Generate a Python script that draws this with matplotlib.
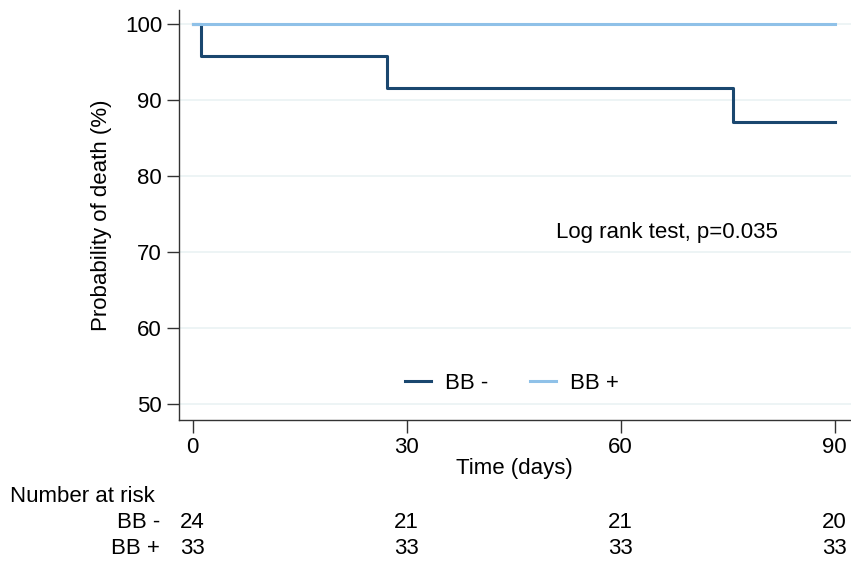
import matplotlib
matplotlib.use("Agg")
import matplotlib.pyplot as plt
import matplotlib.transforms as mtransforms

plt.rcParams['font.family'] = ['Liberation Sans', 'DejaVu Sans']

# Data
bbm_times = [0, 1.1, 27.3, 75.7, 90]
bbm_surv = [100, 95.8, 91.5, 87.1, 87.1]
bbp_times = [0, 90]
bbp_surv = [100, 100]
risk_times = [0, 30, 60, 90]
risk_bbm = [24, 21, 21, 20]
risk_bbp = [33, 33, 33, 33]
group_labels = ["BB -", "BB +"]
yticks = [50, 60, 70, 80, 90, 100]
xticks = [0, 30, 60, 90]

dark = "#1a476f"
light = "#8fc1e8"
grid = "#eaf2f3"
FS = 16

fig = plt.figure(figsize=(8.51, 5.61), dpi=100)
ax = fig.add_axes([0.210, 0.251, 0.790, 0.731])

ax.step(bbm_times, bbm_surv, where='post', color=dark, lw=2.2, label=group_labels[0], zorder=3)
ax.step(bbp_times, bbp_surv, where='post', color=light, lw=2.2, label=group_labels[1], zorder=3)

ax.set_xlim(-1.96, 92.3)
ax.set_ylim(47.9, 101.8)
ax.set_yticks(yticks)
ax.set_xticks(xticks)
ax.yaxis.grid(True, color=grid, lw=1.2)
ax.set_axisbelow(True)
for s in ['top', 'right']:
    ax.spines[s].set_visible(False)
for s in ['left', 'bottom']:
    ax.spines[s].set_color('#333333')
    ax.spines[s].set_linewidth(1.0)
ax.tick_params(axis='both', labelsize=FS, length=9, width=1.0, color='#333333', pad=3)
ax.tick_params(axis='x', pad=3)

ax.set_ylabel("Probability of death (%)", fontsize=FS, labelpad=9)
ax.set_xlabel("Time (days)", fontsize=FS, labelpad=0)

ax.text(51, 72.6, "Log rank test, p=0.035", fontsize=FS, va='center', ha='left')

leg = ax.legend(loc='center', bbox_to_anchor=(0.4955, 0.09), ncol=2, frameon=False,
                fontsize=FS, handlelength=1.17, columnspacing=1.9, handletextpad=0.63)

trans = mtransforms.blended_transform_factory(ax.transData, fig.transFigure)
fig.text(10/851, 1 - 496/561, "Number at risk", fontsize=FS, ha='left', va='center')
fig.text(160/851, 1 - 522/561, group_labels[0], fontsize=FS, ha='right', va='center')
fig.text(160/851, 1 - 548/561, group_labels[1], fontsize=FS, ha='right', va='center')
for t, a, b in zip(risk_times, risk_bbm, risk_bbp):
    ax.text(t, 1 - 522/561, str(a), transform=trans, fontsize=FS, ha='center', va='center')
    ax.text(t, 1 - 548/561, str(b), transform=trans, fontsize=FS, ha='center', va='center')

fig.savefig("out.png", dpi=100)
